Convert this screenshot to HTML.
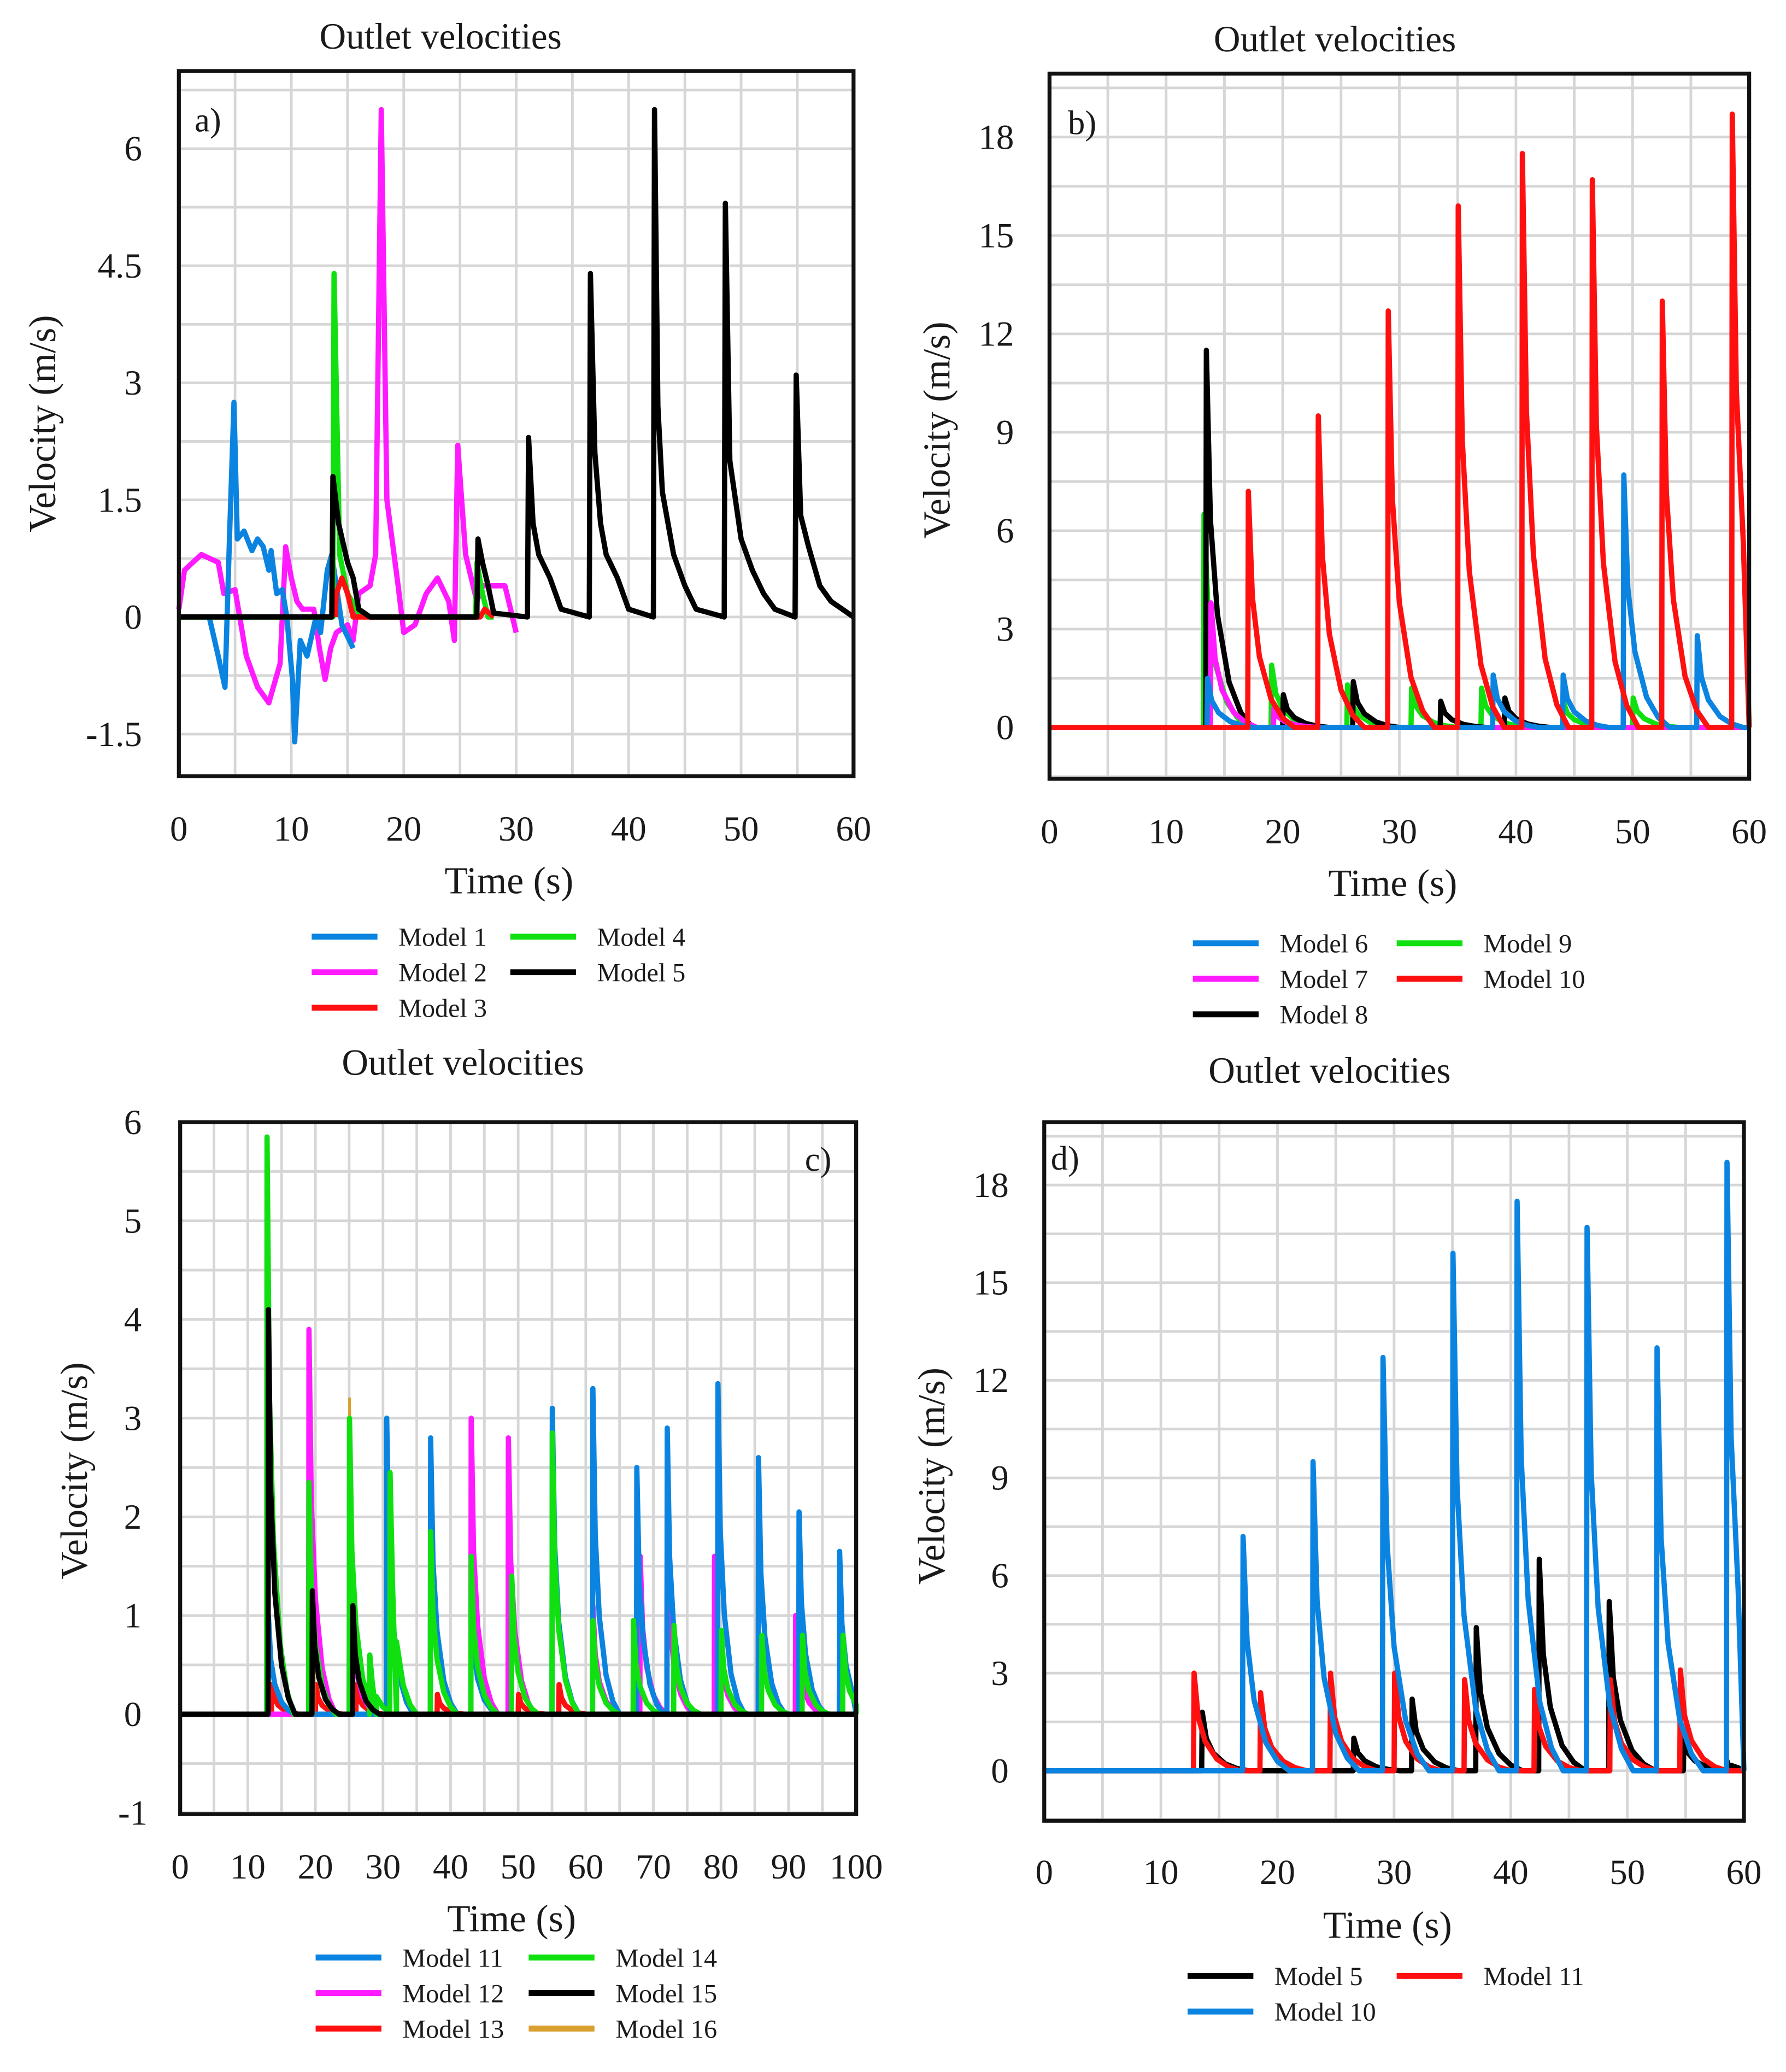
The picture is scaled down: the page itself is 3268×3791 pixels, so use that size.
<!DOCTYPE html>
<html><head><meta charset="utf-8"><style>
html,body{margin:0;padding:0;background:#fff}
svg{display:block}
text{font-family:"Liberation Serif",serif;fill:#1a1a1a}
</style></head><body>
<svg id="fig" xmlns="http://www.w3.org/2000/svg" width="3268" height="3791" viewBox="0 0 1358 1575" preserveAspectRatio="none">
<rect width="1358" height="1575" fill="#fff"/>
</svg>
<script>
// ---------- data ----------
// Panel a
const aM1T=[2.7,3.5,4.1,4.5,4.9,5.2,5.8,6.5,7,7.5,8,8.2,8.7,9.2,9.6,10.1,10.3,10.8,11.4,12.2,12.6,13.2,13.6,14.5,15.5];
const aM1V=[0,-0.5,-0.9,1.0,2.75,1.0,1.1,0.85,1.0,0.9,0.6,0.85,0.3,0.35,0,-0.8,-1.6,-0.3,-0.5,0,-0.2,0.6,0.8,-0.1,-0.4];
const aM2T=[0,0.5,2,3.5,4,5,6,7,8,9,9.5,10,10.5,11,12,12.5,13,13.5,14,15,15.5,16,17,17.5,18,18.5,19.5,20,21,22,23,24,24.5,24.8,25.5,26,26.5,27,28,29,30];
const aM2V=[0.1,0.6,0.8,0.7,0.3,0.35,-0.5,-0.9,-1.1,-0.6,0.9,0.5,0.2,0.1,0.1,-0.4,-0.8,-0.4,-0.2,-0.1,-0.3,0.3,0.4,0.8,6.5,1.5,0.4,-0.2,-0.1,0.3,0.5,0.2,-0.3,2.2,0.8,0.5,0.2,0.4,0.4,0.4,-0.2];
const aM3T=[13.9,14,14.5,15,15.5,26.8,27.2,27.6,28];
const aM3V=[0,0.3,0.5,0.3,0,0,0.1,0.05,0];
const aM4T=[0,13.7,13.8,14.3,15,16,17,26.4,26.5,27,27.5,28];
const aM4V=[0,0,4.4,0.8,0.3,0.05,0,0,0.7,0.3,0,0];
const aM5T=[0,13.6,13.7,14.2,15,15.5,16,17,26.5,26.6,27,27.5,28,31,31.1,31.5,32,33,33.5,34,36.5,36.6,37,37.5,38,39,40,42.2,42.3,42.6,43,44,45,46,48.5,48.6,49,50,51,52,53,54.8,54.9,55.3,56,57,58,59,60];
const aM5V=[0,0,1.8,1.2,0.7,0.5,0.1,0,0,1.0,0.7,0.4,0.05,0,2.3,1.2,0.8,0.5,0.3,0.1,0,4.4,2.1,1.2,0.8,0.5,0.1,0,6.5,2.7,1.6,0.8,0.4,0.1,0,5.3,2.0,1.0,0.6,0.3,0.1,0,3.1,1.3,0.9,0.4,0.2,0.1,0];
// Panel b (spike times and peak values)
const bM6T=[13.5,38,44,49.2,55.5]; const bM6P=[1.5,1.6,1.6,7.7,2.8];
const bM7T=[13.8,19.2]; const bM7P=[3.8,0.6];
const bM8T=[13.4,20,26,33.5,39]; const bM8P=[11.5,1.0,1.4,0.8,0.9];
const bM9T=[13.2,19,25.5,31,37,44,50]; const bM9P=[6.5,1.9,1.3,1.2,1.2,0.8,0.9];
const bM10T=[17,23,29,35,40.5,46.5,52.5,58.5]; const bM10P=[7.2,9.5,12.7,15.9,17.5,16.7,13.0,18.7];
// Panel c
const cM11T=[13,30.5,37,43,55,61,67.5,72,79.5,85.5,91.5,97.5]; const cM11P=[1.0,3.0,2.8,1.2,3.1,3.3,2.5,2.9,3.35,2.6,2.05,1.65];
const cM12T=[19,25,43,48.5,61,68,72,79,91]; const cM12P=[3.9,1.5,3.0,2.8,1.1,1.6,1.75,1.6,1.0];
const cM13T=[13.5,20,26,38,50,56]; const cM13P=[0.3,0.3,0.3,0.2,0.2,0.3];
const cM14T=[12.8,19,25,28,31,37,43,49,55,61,67,73,80,86,92,98]; const cM14P=[5.85,2.35,3.0,0.6,2.45,1.85,1.6,1.4,2.85,0.95,0.95,0.9,0.85,0.8,0.8,0.8];
const cM15T=[13,19.5,25.5]; const cM15P=[4.1,1.25,1.1];
const cM16T=[13,19.8,25]; const cM16P=[4.5,0.8,3.2];
// Panel d
const dM5T=[13.5,26.5,31.5,37,42.4,48.4,54.8,58.5]; const dM5P=[1.8,1.0,2.2,4.4,6.5,5.2,1.0,0.3];
const dM11T=[12.8,18.5,24.5,30,36,42,48.5,54.5]; const dM11P=[3.0,2.4,3.0,3.0,2.8,2.5,2.8,3.1];
const dM10T=[17,23,29,35,40.5,46.5,52.5,58.5]; const dM10P=[7.2,9.5,12.7,15.9,17.5,16.7,13.0,18.7];
// shared decay profile (offset s, fraction of peak)
const decayDt=[0,0.05,0.4,1,2,3,4];
const decayFrac=[0,1,0.55,0.3,0.12,0.04,0];

// ---------- drawing ----------
const NS='http://www.w3.org/2000/svg';
const svg=document.getElementById('fig');
function el(tag,attrs,parent){const e=document.createElementNS(NS,tag);for(const k in attrs)e.setAttribute(k,attrs[k]);(parent||svg).appendChild(e);return e;}
function spikePts(times,peaks,xmax){
  let pts=[[0,0]];
  times.forEach((t,i)=>{decayDt.forEach((d,j)=>{pts.push([t+d,peaks[i]*decayFrac[j]]);});});
  pts.push([xmax,0]);
  pts.sort((a,b)=>a[0]-b[0]);
  return pts.filter(p=>p[0]<=xmax);
}
function panel(c){
  const g=el('g',{});
  
  
  const X=v=>c.x0+(v-c.xmin)/(c.xmax-c.xmin)*(c.x1-c.x0);
  const Y=v=>c.yz-(v)*c.ypu;
  const top=c.y0,bot=c.y1;
  for(let v=c.xmin;v<=c.xmax+1e-6;v+=c.xgrid){const l=el('line',{x1:X(v),x2:X(v),y1:top,y2:bot,stroke:'#d6d6d6','stroke-width':2},g);}
  for(let v=c.ygStart;Y(v)>=top-0.5;v+=c.ygrid){if(Y(v)<=bot){const l=el('line',{x1:c.x0,x2:c.x1,y1:Y(v),y2:Y(v),stroke:'#d6d6d6','stroke-width':2},g);}}
  c.series.forEach(s=>{
    const d=s.pts.map((p,i)=>(i?'L':'M')+X(p[0]).toFixed(2)+','+Y(p[1]).toFixed(2)).join('');
    const p=el('path',{d:d,fill:'none',stroke:s.color,'stroke-width':s.w||4,'stroke-linejoin':'round'},g);
    
    
  });
  const fr=el('rect',{x:c.x0,y:top,width:c.x1-c.x0,height:bot-top,fill:'none',stroke:'#111','stroke-width':3},g);
  
  
  c.xticks.forEach(v=>{const t=el('text',{x:X(v),y:c.xly,'font-size':27,'text-anchor':'middle'},g);t.textContent=v;});
  c.yticks.forEach((v,i)=>{const t=el('text',{x:c.ylx,y:Y(v)+9,'font-size':27,'text-anchor':c.yanchor||'end'},g);t.textContent=c.ytickLabels[i];});
  const ti=el('text',{x:c.title[0],y:c.title[1],'font-size':28,'text-anchor':'middle'},g);ti.textContent='Outlet velocities';
  const xt=el('text',{x:c.xtitle[0],y:c.xtitle[1],'font-size':29,'text-anchor':'middle'},g);xt.textContent='Time (s)';
  const yt=el('text',{x:0,y:0,'font-size':29,'text-anchor':'middle',transform:`translate(${c.ytitle[0]},${c.ytitle[1]}) rotate(-90)`},g);yt.textContent='Velocity (m/s)';
  const pl=el('text',{x:c.plab[0],y:c.plab[1],'font-size':26},g);pl.textContent=c.plab[2];
  c.legend.forEach(L=>{
    const lg=el('g',{},g);
    
    
    el('line',{x1:L[0],x2:L[0]+50,y1:L[1],y2:L[1],stroke:L[3],'stroke-width':4.5},lg);
    const t=el('text',{x:L[0]+66,y:L[1]+7,'font-size':20},lg);t.textContent=L[2];
  });
}
const pairs=(T,V)=>T.map((t,i)=>[t,V[i]]);
const BLUE='#0a84e0',MAG='#ff1aff',RED='#ff1010',GRN='#10e010',BLK='#000',TAN='#d9a030';
panel({name:'panel-a',x0:136,x1:649,y0:54,y1:590,xmin:0,xmax:60,yz:469,ypu:89/1.5,xgrid:5,ygrid:0.75,ygStart:-2.25,
 xticks:[0,10,20,30,40,50,60],xly:639,yticks:[-1.5,0,1.5,3,4.5,6],ytickLabels:['-1.5','0','1.5','3','4.5','6'],ylx:108,
 title:[335,37],xtitle:[387,679],ytitle:[42,322],plab:[148,100,'a)'],
 series:[{id:'model-2',color:MAG,pts:pairs(aM2T,aM2V)},{id:'model-1',color:BLUE,pts:pairs(aM1T,aM1V)},{id:'model-4',color:GRN,pts:pairs(aM4T,aM4V)},{id:'model-3',color:RED,pts:pairs(aM3T,aM3V)},{id:'model-5',color:BLK,pts:pairs(aM5T,aM5V)}],
 legend:[[237,712,'Model 1',BLUE],[237,739,'Model 2',MAG],[237,766,'Model 3',RED],[388,712,'Model 4',GRN],[388,739,'Model 5',BLK]]});
panel({name:'panel-b',x0:798,x1:1330,y0:56,y1:592,xmin:0,xmax:60,yz:553,ypu:74.8/3,xgrid:5,ygrid:1.5,ygStart:-1.5,
 xticks:[0,10,20,30,40,50,60],xly:641,yticks:[0,3,6,9,12,15,18],ytickLabels:['0','3','6','9','12','15','18'],ylx:771,
 title:[1015,39],xtitle:[1059,681],ytitle:[722,327],plab:[812,102,'b)'],
 series:[{id:'model-9',color:GRN,pts:spikePts(bM9T,bM9P,60)},{id:'model-8',color:BLK,pts:spikePts(bM8T,bM8P,60)},{id:'model-7',color:MAG,pts:spikePts(bM7T,bM7P,60)},{id:'model-6',color:BLUE,pts:spikePts(bM6T,bM6P,60)},{id:'model-10',color:RED,pts:spikePts(bM10T,bM10P,60)}],
 legend:[[907,717,'Model 6',BLUE],[907,744,'Model 7',MAG],[907,771,'Model 8',BLK],[1062,717,'Model 9',GRN],[1062,744,'Model 10',RED]]});
panel({name:'panel-c',x0:137,x1:651,y0:853,y1:1379,xmin:0,xmax:100,yz:1303,ypu:75,xgrid:5,ygrid:0.5,ygStart:-1,
 xticks:[0,10,20,30,40,50,60,70,80,90,100],xly:1428,yticks:[-1,0,1,2,3,4,5,6],ytickLabels:['-1','0','1','2','3','4','5','6'],ylx:101,yanchor:'middle',
 title:[352,817],xtitle:[389,1468],ytitle:[66,1118],plab:[612,890,'c)'],
 series:[{id:'model-13',color:RED,pts:spikePts(cM13T,cM13P,100)},{id:'model-12',color:MAG,pts:spikePts(cM12T,cM12P,100)},{id:'model-11',color:BLUE,pts:spikePts(cM11T,cM11P,100)},{id:'model-16',color:TAN,w:2,pts:spikePts(cM16T,cM16P,100)},{id:'model-14',color:GRN,pts:spikePts(cM14T,cM14P,100)},{id:'model-15',color:BLK,pts:spikePts(cM15T,cM15P,100)}],
 legend:[[240,1488,'Model 11',BLUE],[240,1515,'Model 12',MAG],[240,1542,'Model 13',RED],[402,1488,'Model 14',GRN],[402,1515,'Model 15',BLK],[402,1542,'Model 16',TAN]]});
panel({name:'panel-d',x0:794,x1:1326,y0:853,y1:1384,xmin:0,xmax:60,yz:1346,ypu:74.2/3,xgrid:5,ygrid:1.5,ygStart:-1.5,
 xticks:[0,10,20,30,40,50,60],xly:1432,yticks:[0,3,6,9,12,15,18],ytickLabels:['0','3','6','9','12','15','18'],ylx:767,
 title:[1011,823],xtitle:[1055,1473],ytitle:[718,1122],plab:[799,889,'d)'],
 series:[{id:'model-5',color:BLK,pts:spikePts(dM5T,dM5P,60)},{id:'model-11',color:RED,pts:spikePts(dM11T,dM11P,60)},{id:'model-10',color:BLUE,pts:spikePts(dM10T,dM10P,60)}],
 legend:[[903,1502,'Model 5',BLK],[903,1529,'Model 10',BLUE],[1062,1502,'Model 11',RED]]});
</script>
</body></html>
